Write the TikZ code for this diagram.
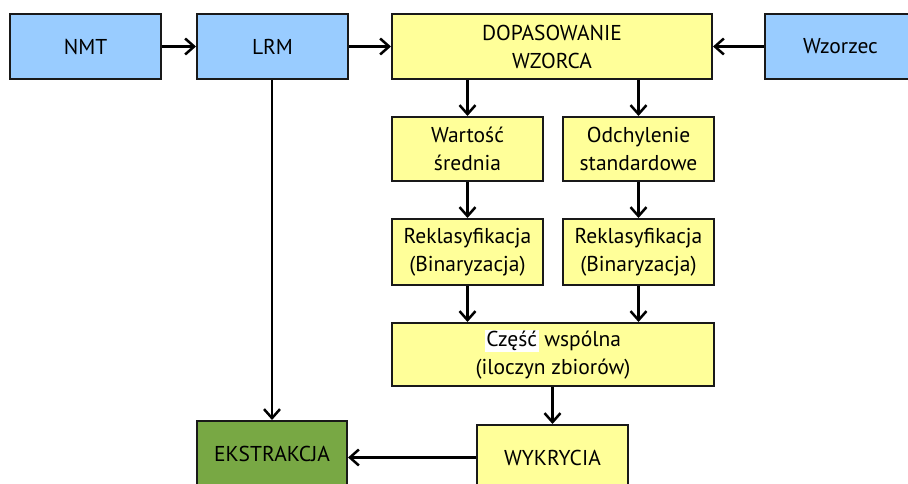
\documentclass[tikz,border=0pt]{standalone}
\usepackage{fontspec}
\setmainfont{PT Sans}
\usetikzlibrary{arrows.meta}
\definecolor{niebieski}{RGB}{153,204,255}
\definecolor{zolty}{RGB}{255,255,153}
\definecolor{zielony}{RGB}{120,168,68}

\begin{document}
\begin{tikzpicture}[x=1pt, y=-1pt,
		blok/.style={draw=black!90, line width=2pt, minimum width=151pt, minimum height=65pt,
			align=center, inner sep=0pt, font=\fontsize{21.5}{28}\selectfont},
		dane/.style={blok, fill=niebieski},
		proces/.style={blok, fill=zolty},
		wynik/.style={blok, fill=zielony},
		strz/.style={line width=2.5pt, -{Straight Barb[length=9pt, width=16pt, line width=2.5pt]}}]
		%%%%% START %%%%%
		\clip (0, 0) rectangle (908, 484);
		
		\node[dane] (nmt) at (85.5, 46.5) {NMT};
		\node[dane] (lrm) at (272.5, 46.5) {LRM};
		\node[proces, minimum width=320pt] (dop) at (552, 46.5) {DOPASOWANIE\\WZORCA};
		\node[dane] (wzor) at (840.5, 46.5) {Wzorzec};
		
		\node[proces, minimum height=64pt] (sred) at (467.5, 149) {Wartość\\średnia};
		\node[proces, minimum height=64pt] (odch) at (638.5, 149) {Odchylenie\\standardowe};
		
		\node[proces, minimum height=66pt] (rek1) at (467.5, 252) {Reklasyfikacja\\(Binaryzacja)};
		\node[proces, minimum height=66pt] (rek2) at (638.5, 252) {Reklasyfikacja\\(Binaryzacja)};
		
		\node[proces, minimum width=322pt, minimum height=63pt] (wsp) at (553, 354.5)
			{{\setlength{\fboxsep}{1.5pt}\colorbox{white}{Część}} wspólna\\(iloczyn zbiorów)};
		
		\node[wynik, minimum width=150pt] (ekst) at (272, 453.5) {EKSTRAKCJA};
		\node[proces] (wyk) at (552.5, 457.5) {WYKRYCIA};
		
		\draw[strz] (nmt) -- (lrm);
		\draw[strz] (lrm) -- (dop);
		\draw[strz] (wzor) -- (dop);
		\draw[strz] (sred |- dop.south) -- (sred);
		\draw[strz] (odch |- dop.south) -- (odch);
		\draw[strz] (sred) -- (rek1);
		\draw[strz] (odch) -- (rek2);
		\draw[strz] (rek1) -- (rek1 |- wsp.north);
		\draw[strz] (rek2) -- (rek2 |- wsp.north);
		\draw[strz] (wsp.south -| wyk) -- (wyk);
		\draw[strz] (lrm.south -| ekst) -- (ekst);
		\draw[strz] (wyk.west) -- (wyk.west -| ekst.east);
		%%%%% END %%%%%
	\end{tikzpicture}
\end{document}
